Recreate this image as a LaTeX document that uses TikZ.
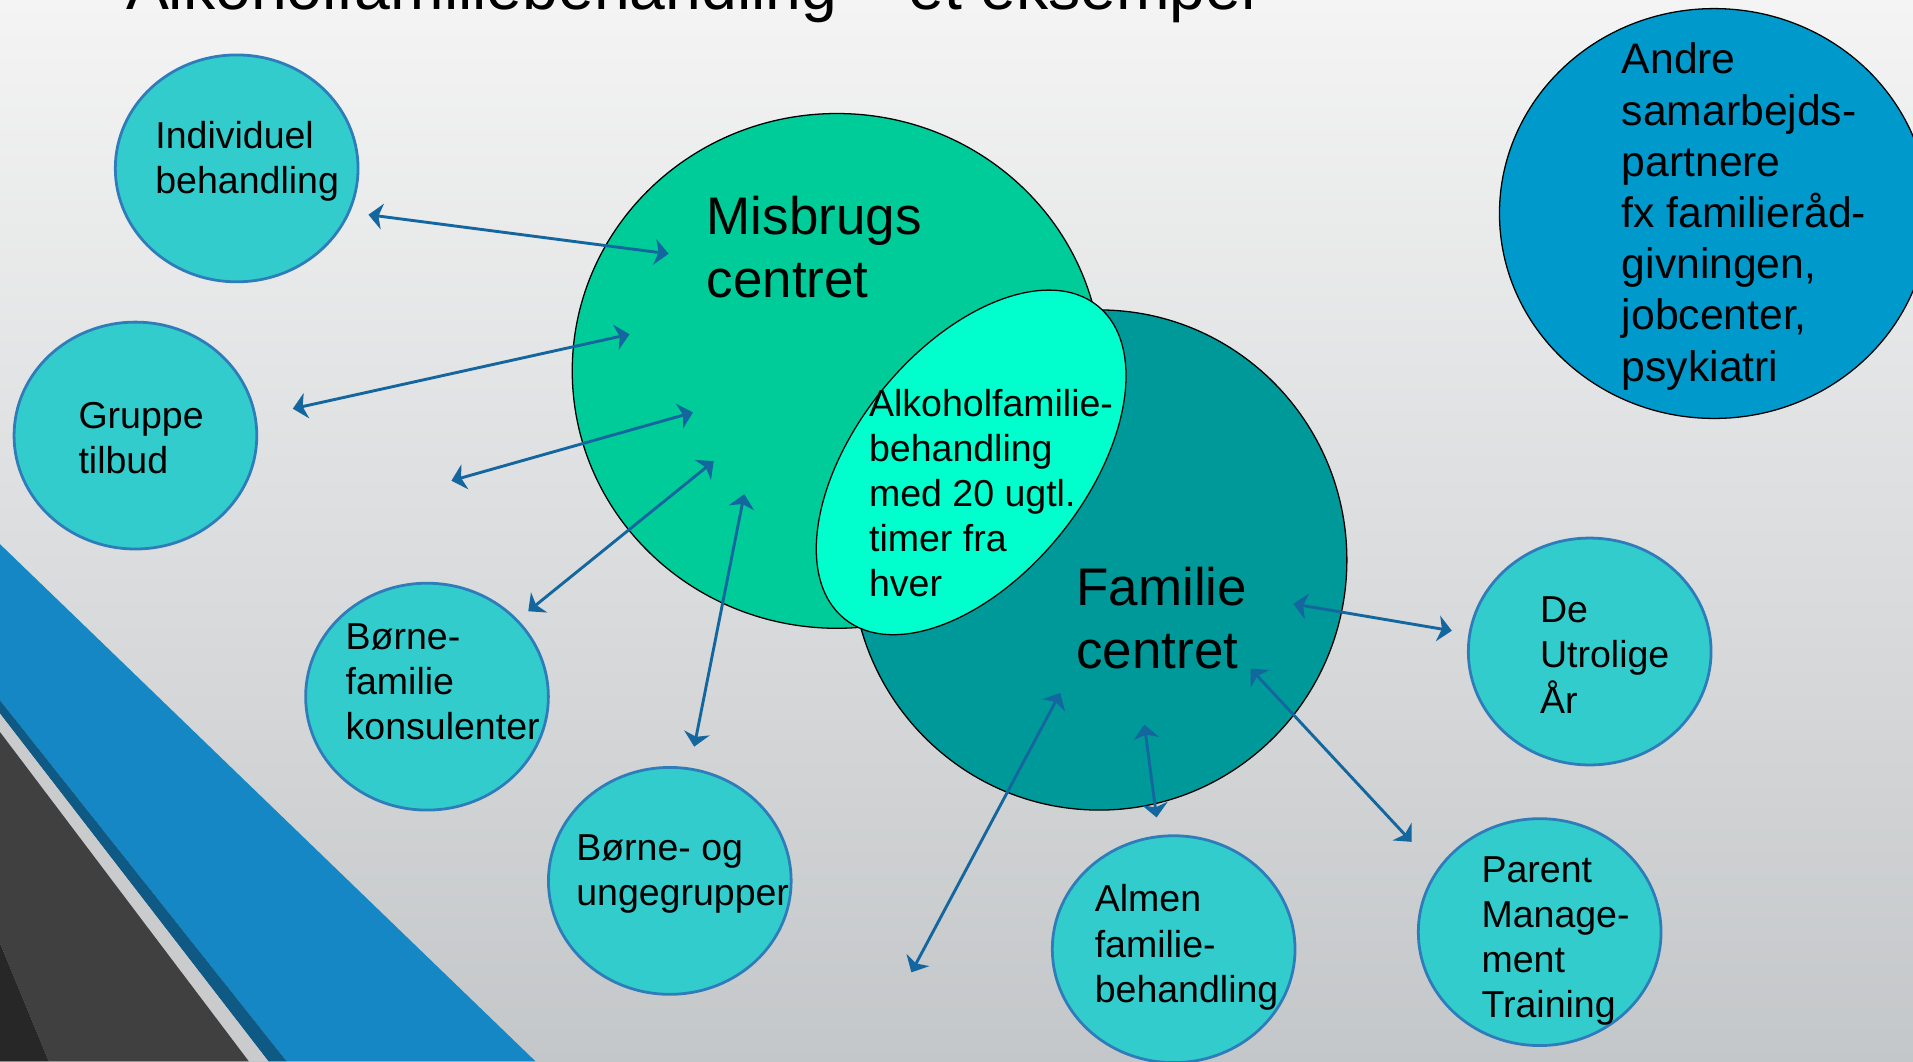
\documentclass[tikz,border=0pt]{standalone}
\usepackage{fontspec}
\setmainfont{Liberation Sans}
\usetikzlibrary{shapes.geometric,arrows.meta}
\definecolor{bgtop}{HTML}{F4F4F4}
\definecolor{bgbot}{HTML}{C4C7C9}
\definecolor{stripeblue}{HTML}{1487C4}
\definecolor{stripedark}{HTML}{0E5A85}
\definecolor{stripelight}{HTML}{C9CBCD}
\definecolor{greydark}{HTML}{404040}
\definecolor{greydarkest}{HTML}{272727}
\definecolor{smallfill}{HTML}{33CCCC}
\definecolor{smallline}{HTML}{2E7DBA}
\definecolor{misfill}{HTML}{00CC99}
\definecolor{famfill}{HTML}{009999}
\definecolor{alkfill}{HTML}{00FFCC}
\definecolor{andrefill}{HTML}{0099CC}
\definecolor{arrowc}{HTML}{14669F}
\newcommand\mylines[1]{\begin{tabular}[t]{@{}l@{}}#1\end{tabular}}
\begin{document}
\begin{tikzpicture}[x=0.02cm,y=-0.02cm,
  small/.style={ellipse, fill=smallfill, draw=smallline, line width=1.3pt, minimum width=3.98cm, minimum height=3.72cm, inner sep=0pt},
  big/.style={ellipse, draw=black, line width=0.6pt, inner sep=0pt},
  stxt/.style={anchor=base west, inner sep=0pt, font=\fontsize{17.5pt}{21pt}\selectfont},
  btxt/.style={anchor=base west, inner sep=0pt, font=\fontsize{24.7pt}{29.6pt}\selectfont},
  atxt/.style={anchor=base west, inner sep=0pt, font=\fontsize{19.9pt}{23.9pt}\selectfont},
  conn/.style={draw=arrowc, line width=1.35pt, {Stealth[length=6.5pt,width=12pt,inset=1.8pt]}-{Stealth[length=6.5pt,width=12pt,inset=1.8pt]}}
]
\useasboundingbox (0,0) rectangle (1568,870);
\clip (0,0) rectangle (1568,870);
\shade[top color=bgtop, bottom color=bgbot] (0,0) rectangle (1568,870);
% decorative stripes
\fill[stripeblue] (0,446) -- (439,870) -- (235,870) -- (0,574) -- cycle;
\fill[stripedark] (0,574) -- (235,870) -- (220,870) -- (0,585) -- cycle;
\fill[stripelight] (0,585) -- (220,870) -- (204,870) -- (0,600) -- cycle;
\fill[greydark] (0,600) -- (204,870) -- (40,870) -- (0,773) -- cycle;
\fill[greydarkest] (0,773) -- (40,870) -- (0,870) -- cycle;
% title (cut off at the top, as in the slide)
\node[anchor=base west, inner sep=0pt, font=\fontsize{30pt}{36pt}\selectfont] (title) at (103,8) {Alkoholfamiliebehandling – et eksempel};
% small circles
\node[small] (ind) at (194,138) {};
\node[small] (grp) at (111,357) {};
\node[small] (bfk) at (350,571) {};
\node[small] (bou) at (549,722) {};
\node[small] (alm) at (962,778) {};
\node[small] (pmt) at (1262,764) {};
\node[small] (dua) at (1303,534) {};
% big circles
\node[big, fill=misfill, minimum width=8.68cm, minimum height=8.44cm] (mis) at (686,304) {};
\node[big, fill=famfill, minimum width=8.12cm, minimum height=8.2cm] (fam) at (901,459) {};
\node[big, fill=alkfill, minimum width=6.6cm, minimum height=3.76cm, rotate=51] (alk) at (796,379) {};
\node[big, fill=andrefill, minimum width=7.04cm, minimum height=6.72cm] (andre) at (1405,175) {};
% arrow end points
\coordinate (a1s) at (302,176); \coordinate (a1e) at (548,208);
\coordinate (a2s) at (240,335); \coordinate (a2e) at (516,274);
\coordinate (a3s) at (370,394); \coordinate (a3e) at (568,338);
\coordinate (a4s) at (433,501); \coordinate (a4e) at (585,378);
\coordinate (a5s) at (569,612); \coordinate (a5e) at (610,405);
\coordinate (a6s) at (747,797); \coordinate (a6e) at (869,568);
\coordinate (a7s) at (948,670); \coordinate (a7e) at (938,594);
\coordinate (a8s) at (1157,690); \coordinate (a8e) at (1025,548);
\coordinate (a9s) at (1190,517); \coordinate (a9e) at (1060,495);
\foreach \i in {1,...,9} \draw[conn] (a\i s) -- (a\i e);
% texts
\node[stxt] (indt) at (127,122) {\mylines{Individuel\\behandling}};
\node[stxt] (grpt) at (64,351) {\mylines{Gruppe\\tilbud}};
\node[stxt] (bfkt) at (283,532) {\mylines{Børne-\\familie\\konsulenter}};
\node[stxt] (bout) at (472,705) {\mylines{Børne- og\\ungegrupper}};
\node[stxt] (almt) at (897,747.5) {\mylines{Almen\\familie-\\behandling}};
\node[stxt] (pmtt) at (1214,723) {\mylines{Parent\\Manage-\\ment\\Training}};
\node[stxt] (duat) at (1262,510) {\mylines{De\\Utrolige\\År}};
\node[btxt] (mist) at (579,192) {\mylines{Misbrugs\\centret}};
\node[btxt] (famt) at (882,496) {\mylines{Familie\\centret}};
\node[stxt] (alkt) at (712,341) {\mylines{Alkoholfamilie-\\behandling\\med 20 ugtl.\\timer fra\\hver}};
\node[atxt] (andret) at (1329,60.5) {\mylines{Andre\\samarbejds-\\partnere\\fx familieråd-\\givningen,\\jobcenter,\\psykiatri}};
\end{tikzpicture}
\end{document}
